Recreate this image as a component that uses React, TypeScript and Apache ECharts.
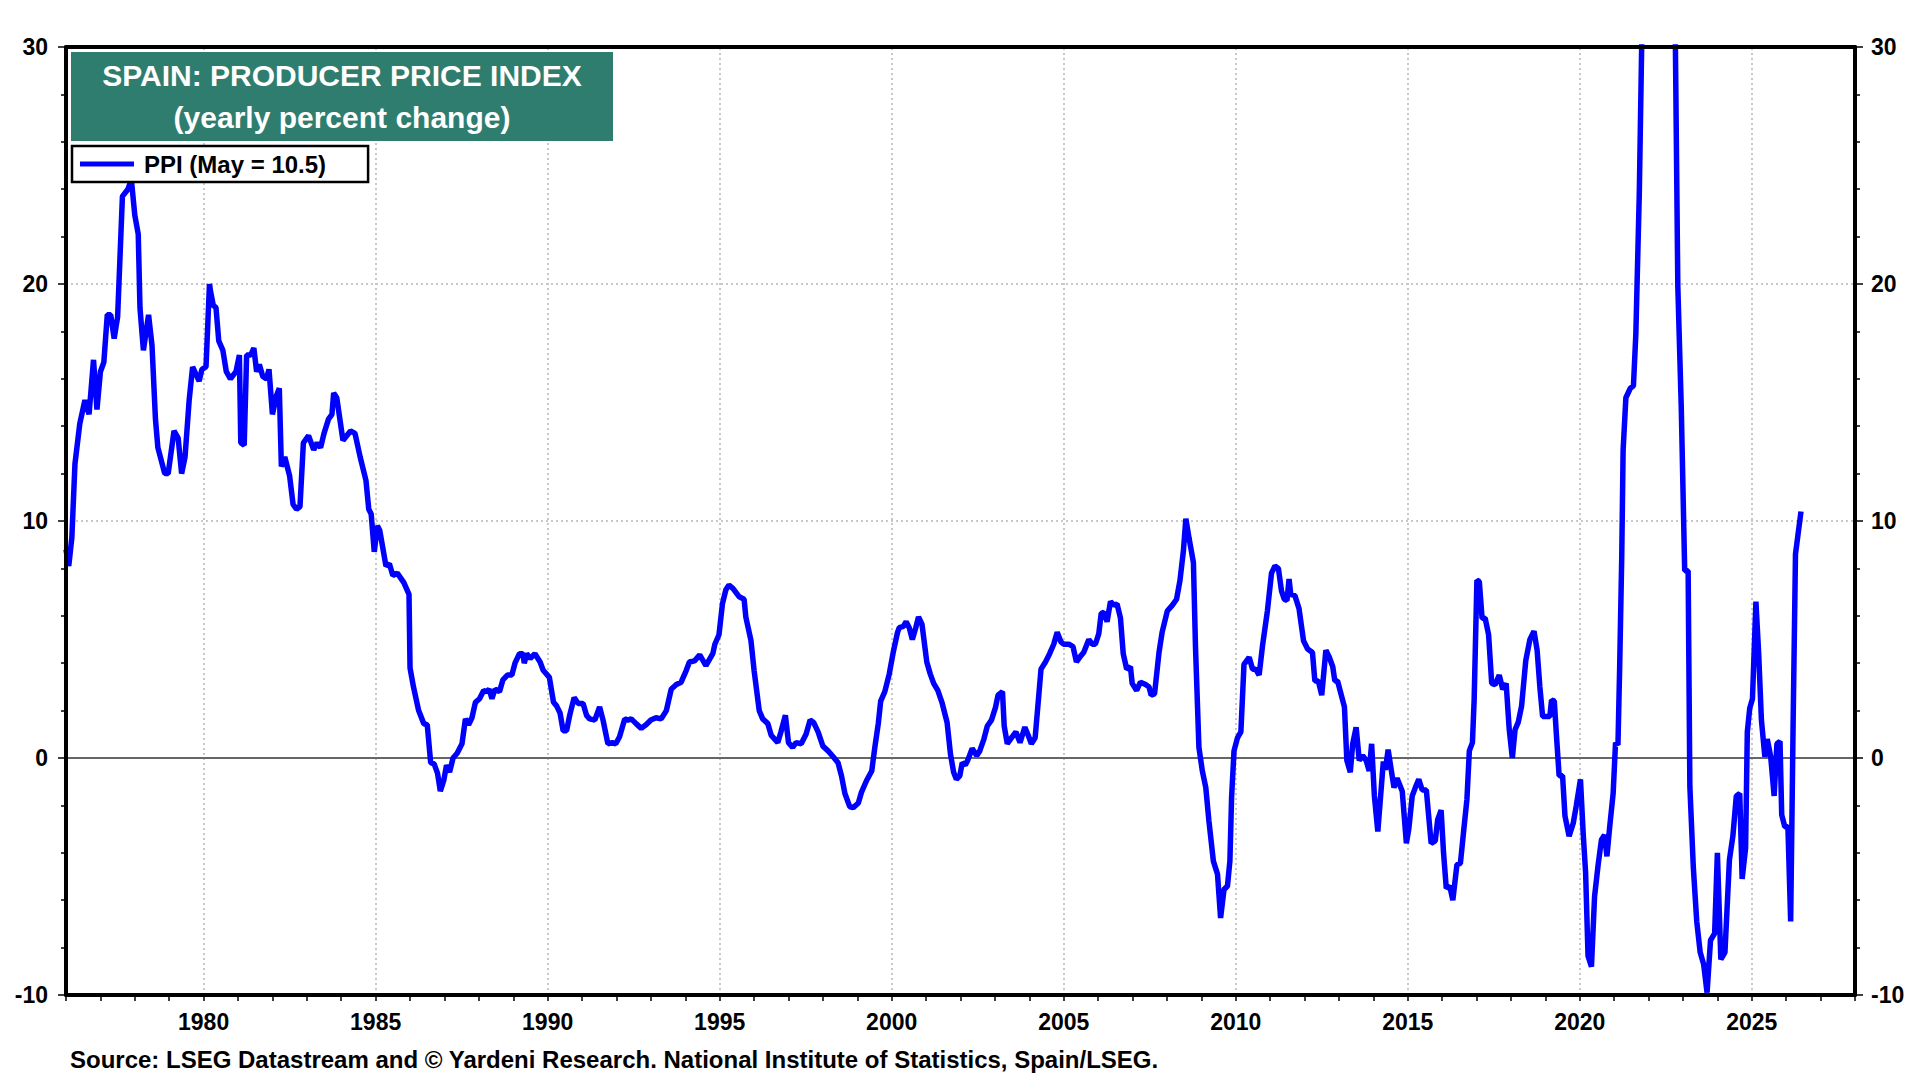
import * as echarts from 'echarts';
import { useEffect, useRef } from 'react';

// decimal year of each reading
const dates = [
  1976.0, 1976.08, 1976.17, 1976.26, 1976.4, 1976.55, 1976.67, 1976.8, 1976.9, 1977.0,
  1977.1, 1977.2, 1977.3, 1977.4, 1977.5, 1977.64, 1977.8, 1977.9, 1978.0, 1978.1,
  1978.15, 1978.25, 1978.4, 1978.5, 1978.6, 1978.67, 1978.87, 1978.97, 1979.14, 1979.26,
  1979.36, 1979.46, 1979.58, 1979.68, 1979.87, 1979.95, 1980.07, 1980.17, 1980.2, 1980.28,
  1980.36, 1980.44, 1980.56, 1980.66, 1980.78, 1980.94, 1981.04, 1981.08, 1981.18, 1981.25,
  1981.37, 1981.46, 1981.54, 1981.62, 1981.72, 1981.83, 1981.9, 1982.0, 1982.12, 1982.2,
  1982.26, 1982.36, 1982.5, 1982.6, 1982.7, 1982.8, 1982.9, 1983.05, 1983.2, 1983.3,
  1983.4, 1983.5, 1983.63, 1983.73, 1983.78, 1983.87, 1984.05, 1984.27, 1984.4, 1984.55,
  1984.72, 1984.8, 1984.87, 1984.96, 1985.05, 1985.12, 1985.3, 1985.4, 1985.5, 1985.63,
  1985.82, 1985.97, 1986.0, 1986.1, 1986.25, 1986.4, 1986.5, 1986.6, 1986.7, 1986.8,
  1986.88, 1986.98, 1987.06, 1987.15, 1987.25, 1987.37, 1987.51, 1987.61, 1987.7, 1987.8,
  1987.9, 1988.02, 1988.14, 1988.23, 1988.3, 1988.38, 1988.47, 1988.6, 1988.7, 1988.83,
  1988.96, 1989.05, 1989.18, 1989.28, 1989.32, 1989.39, 1989.49, 1989.63, 1989.78, 1989.87,
  1990.05, 1990.17, 1990.26, 1990.36, 1990.45, 1990.55, 1990.64, 1990.77, 1990.89, 1991.03,
  1991.13, 1991.22, 1991.37, 1991.51, 1991.61, 1991.75, 1991.88, 1991.98, 1992.09, 1992.24,
  1992.33, 1992.43, 1992.57, 1992.72, 1992.86, 1993.0, 1993.15, 1993.3, 1993.45, 1993.59,
  1993.74, 1993.88, 1994.03, 1994.12, 1994.27, 1994.42, 1994.6, 1994.8, 1994.86, 1994.98,
  1995.08, 1995.18, 1995.27, 1995.39, 1995.57, 1995.71, 1995.76, 1995.91, 1996.0, 1996.15,
  1996.25, 1996.4, 1996.5, 1996.69, 1996.78, 1996.91, 1997.0, 1997.12, 1997.22, 1997.37,
  1997.51, 1997.63, 1997.73, 1997.86, 1998.0, 1998.15, 1998.3, 1998.44, 1998.54, 1998.64,
  1998.78, 1998.88, 1999.03, 1999.12, 1999.27, 1999.42, 1999.51, 1999.61, 1999.68, 1999.8,
  1999.93, 2000.05, 2000.17, 2000.22, 2000.34, 2000.42, 2000.51, 2000.6, 2000.7, 2000.78,
  2000.88, 2001.02, 2001.12, 2001.22, 2001.34, 2001.46, 2001.61, 2001.71, 2001.8, 2001.88,
  2001.98, 2002.05, 2002.14, 2002.21, 2002.34, 2002.47, 2002.56, 2002.68, 2002.78, 2002.9,
  2003.02, 2003.09, 2003.22, 2003.27, 2003.36, 2003.48, 2003.61, 2003.73, 2003.87, 2003.97,
  2004.06, 2004.17, 2004.27, 2004.34, 2004.47, 2004.59, 2004.71, 2004.81, 2004.92, 2005.0,
  2005.15, 2005.27, 2005.37, 2005.49, 2005.58, 2005.73, 2005.83, 2005.92, 2006.02, 2006.09,
  2006.17, 2006.26, 2006.36, 2006.46, 2006.55, 2006.65, 2006.73, 2006.83, 2006.94, 2006.99,
  2007.12, 2007.23, 2007.38, 2007.48, 2007.54, 2007.64, 2007.77, 2007.86, 2008.01, 2008.16,
  2008.28, 2008.38, 2008.48, 2008.55, 2008.64, 2008.77, 2008.83, 2008.93, 2009.03, 2009.13,
  2009.22, 2009.35, 2009.47, 2009.56, 2009.66, 2009.76, 2009.83, 2009.88, 2009.95, 2010.05,
  2010.15, 2010.24, 2010.39, 2010.49, 2010.58, 2010.68, 2010.78, 2010.92, 2011.04, 2011.14,
  2011.24, 2011.33, 2011.41, 2011.49, 2011.55, 2011.6, 2011.72, 2011.84, 2011.97, 2012.09,
  2012.23, 2012.3, 2012.4, 2012.5, 2012.62, 2012.72, 2012.82, 2012.88, 2012.96, 2013.06,
  2013.16, 2013.23, 2013.33, 2013.4, 2013.5, 2013.59, 2013.69, 2013.79, 2013.88, 2013.95,
  2014.03, 2014.13, 2014.29, 2014.35, 2014.43, 2014.52, 2014.6, 2014.69, 2014.84, 2014.96,
  2015.03, 2015.13, 2015.22, 2015.32, 2015.42, 2015.54, 2015.68, 2015.8, 2015.87, 2015.97,
  2016.04, 2016.12, 2016.22, 2016.31, 2016.43, 2016.53, 2016.62, 2016.72, 2016.79, 2016.88,
  2016.93, 2017.01, 2017.08, 2017.16, 2017.25, 2017.35, 2017.44, 2017.54, 2017.66, 2017.76,
  2017.86, 2017.95, 2018.04, 2018.12, 2018.21, 2018.31, 2018.43, 2018.55, 2018.67, 2018.76,
  2018.84, 2018.92, 2019.02, 2019.13, 2019.18, 2019.26, 2019.32, 2019.4, 2019.5, 2019.57,
  2019.69, 2019.81, 2019.9, 2020.02, 2020.1, 2020.17, 2020.24, 2020.34, 2020.43, 2020.53,
  2020.63, 2020.72, 2020.79, 2020.87, 2020.97, 2021.04, 2021.11, 2021.16, 2021.22, 2021.26,
  2021.34, 2021.47, 2021.56, 2021.63, 2021.73, 2021.81, 2021.9, 2022.0, 2022.1, 2022.2,
  2022.3, 2022.4, 2022.5, 2022.6, 2022.7, 2022.78, 2022.85, 2022.95, 2023.05, 2023.15,
  2023.2, 2023.3, 2023.4, 2023.5, 2023.6, 2023.7, 2023.8, 2023.92, 2024.0, 2024.1,
  2024.22, 2024.35, 2024.45, 2024.55, 2024.65, 2024.72, 2024.82, 2024.87, 2024.94, 2025.02,
  2025.12, 2025.2, 2025.28, 2025.38, 2025.45, 2025.55, 2025.65, 2025.73, 2025.82, 2025.87,
  2025.96, 2026.05, 2026.13, 2026.2, 2026.27, 2026.43,
];

// PPI, yearly percent change
const ppi = [
  8.8, 8.1, 9.3, 12.4, 14.1, 15.1, 14.5, 16.8, 14.7, 16.3,
  16.7, 18.7, 18.7, 17.7, 18.6, 23.7, 24.0, 24.4, 22.9, 22.1,
  19.0, 17.2, 18.7, 17.4, 14.3, 13.1, 12.0, 12.0, 13.8, 13.5,
  12.0, 12.7, 15.1, 16.5, 15.9, 16.4, 16.5, 20.0, 19.7, 19.1,
  19.0, 17.6, 17.2, 16.3, 16.0, 16.3, 17.0, 13.3, 13.2, 17.0,
  17.0, 17.3, 16.3, 16.6, 16.1, 16.0, 16.4, 14.5, 15.3, 15.6,
  12.3, 12.7, 11.9, 10.7, 10.5, 10.6, 13.3, 13.6, 13.0, 13.3,
  13.1, 13.7, 14.3, 14.5, 15.4, 15.2, 13.4, 13.8, 13.7, 12.7,
  11.7, 10.5, 10.3, 8.7, 9.8, 9.6, 8.1, 8.2, 7.7, 7.8,
  7.4, 6.9, 3.8, 3.0, 2.0, 1.45, 1.4, -0.2, -0.25, -0.65,
  -1.4, -0.95, -0.3, -0.6, 0.0, 0.2, 0.6, 1.65, 1.4, 1.7,
  2.35, 2.5, 2.85, 2.8, 2.9, 2.5, 2.9, 2.8, 3.3, 3.5,
  3.5, 4.0, 4.4, 4.4, 4.0, 4.4, 4.2, 4.4, 4.05, 3.7,
  3.4, 2.35, 2.2, 1.9, 1.15, 1.15, 1.8, 2.55, 2.3, 2.3,
  1.8, 1.65, 1.6, 2.15, 1.6, 0.6, 0.65, 0.6, 0.9, 1.65,
  1.6, 1.65, 1.45, 1.25, 1.4, 1.6, 1.7, 1.65, 2.0, 2.9,
  3.1, 3.2, 3.7, 4.05, 4.1, 4.35, 3.9, 4.4, 4.8, 5.2,
  6.5, 7.1, 7.3, 7.15, 6.8, 6.7, 5.95, 4.95, 3.7, 2.0,
  1.65, 1.45, 0.95, 0.65, 1.1, 1.8, 0.65, 0.45, 0.65, 0.6,
  1.0, 1.6, 1.5, 1.1, 0.5, 0.3, 0.05, -0.2, -0.75, -1.5,
  -2.05, -2.1, -1.9, -1.45, -0.95, -0.55, 0.45, 1.45, 2.4, 2.8,
  3.55, 4.5, 5.3, 5.5, 5.55, 5.75, 5.5, 5.0, 5.5, 5.95,
  5.65, 4.05, 3.55, 3.15, 2.85, 2.35, 1.5, 0.15, -0.6, -0.9,
  -0.75, -0.2, -0.3, -0.1, 0.4, 0.1, 0.3, 0.8, 1.35, 1.6,
  2.15, 2.65, 2.8, 1.35, 0.6, 0.85, 1.1, 0.65, 1.3, 0.95,
  0.6, 0.85, 2.55, 3.75, 4.05, 4.4, 4.8, 5.3, 4.9, 4.8,
  4.8, 4.7, 4.05, 4.3, 4.45, 5.0, 4.8, 4.8, 5.25, 6.1,
  6.15, 5.75, 6.6, 6.45, 6.5, 5.9, 4.4, 3.75, 3.85, 3.15,
  2.85, 3.2, 3.1, 3.0, 2.65, 2.7, 4.45, 5.3, 6.2, 6.45,
  6.7, 7.5, 8.75, 10.1, 9.3, 8.25, 4.7, 0.45, -0.55, -1.25,
  -2.65, -4.35, -4.9, -6.75, -5.55, -5.4, -4.35, -1.65, 0.3, 0.85,
  1.1, 3.95, 4.25, 3.75, 3.75, 3.5, 4.75, 6.2, 7.8, 8.1,
  8.0, 7.05, 6.7, 6.65, 7.55, 6.9, 6.85, 6.3, 4.95, 4.6,
  4.45, 3.25, 3.25, 2.65, 4.55, 4.25, 3.85, 3.25, 3.25, 2.7,
  2.15, -0.1, -0.6, 0.6, 1.3, -0.1, 0.1, -0.1, -0.55, 0.6,
  -1.6, -3.1, -0.15, -0.5, 0.35, -0.5, -1.25, -0.85, -1.4, -3.6,
  -3.0, -1.6, -1.25, -0.9, -1.35, -1.35, -3.6, -3.5, -2.6, -2.2,
  -4.0, -5.5, -5.4, -6.0, -4.5, -4.45, -3.15, -1.75, 0.3, 0.65,
  2.45, 7.5, 7.45, 5.9, 5.9, 5.2, 3.15, 3.1, 3.5, 2.9,
  3.15, 1.2, 0.0, 1.2, 1.5, 2.2, 4.1, 5.0, 5.35, 4.55,
  3.0, 1.75, 1.75, 1.75, 2.45, 2.4, 1.0, -0.75, -0.75, -2.45,
  -3.3, -2.75, -2.0, -0.9, -3.2, -4.85, -8.35, -8.8, -5.85, -4.55,
  -3.45, -3.25, -4.15, -2.9, -1.5, 0.65, 0.55, 3.85, 8.5, 13.0,
  15.2, 15.6, 15.7, 17.9, 23.8, 31.0, 36.0, 40.0, 43.0, 46.0,
  45.0, 44.0, 43.0, 40.0, 34.0, 30.0, 19.9, 14.8, 7.9, 7.9,
  -1.2, -4.6, -6.9, -8.2, -8.7, -9.9, -7.7, -7.4, -4.0, -8.5,
  -8.2, -4.3, -3.3, -1.6, -1.5, -5.1, -3.8, 1.1, 2.1, 2.5,
  6.6, 4.4, 1.6, 0.05, 0.8, 0.05, -1.6, 0.6, 0.7, -2.4,
  -2.9, -2.9, -6.9, 1.3, 8.6, 10.4,
];

const gridYears = [1980, 1985, 1990, 1995, 2000, 2005, 2010, 2015, 2020, 2025];
const gridLevels = [10, 20];

const FONT = '"Liberation Sans", Arial, Helvetica, sans-serif';
const GRID_STYLE = { color: '#c8c8c8', width: 2, type: [2, 3] };

const SpainPpiChart = () => {
    const divRef = useRef<HTMLDivElement>(null);

    useEffect(() => {
        document.body.style.margin = '0';
        const myChart = echarts.init(divRef.current!, null, { renderer: 'svg' });

        const yAxisBase = {
            type: 'value',
            min: -10,
            max: 30,
            interval: 10,
            z: 10,
            axisLine: { show: true, lineStyle: { color: '#000', width: 4 } },
            axisTick: { show: true, length: 8, lineStyle: { color: '#000', width: 1.5 } },
            minorTick: { show: true, splitNumber: 5, length: 5, lineStyle: { color: '#000', width: 1.5 } },
            axisLabel: { color: '#000', fontSize: 23, fontWeight: 'bold', fontFamily: FONT },
            splitLine: { show: false },
        };

        myChart.setOption({
            animation: false,
            backgroundColor: '#fff',
            textStyle: { fontFamily: FONT },
            grid: { left: 66, right: 65, top: 47, bottom: 85, show: false },
            legend: {
                left: 72,
                top: 146,
                z: 50,
                orient: 'vertical',
                backgroundColor: '#fff',
                borderColor: '#000',
                borderWidth: 2.5,
                borderRadius: 0,
                padding: [6, 42, 6, 8],
                itemWidth: 54,
                itemHeight: 5,
                itemGap: 0,
                textStyle: {
                    color: '#000', fontSize: 24, fontWeight: 'bold', fontFamily: FONT,
                    padding: [0, 0, 0, 5],
                },
                data: [{ name: 'PPI (May = 10.5)', icon: 'rect' }],
            },
            xAxis: [
                {
                    type: 'value',
                    min: 1976,
                    max: 2028,
                    interval: 1,
                    z: 10,
                    axisLine: { show: true, onZero: false, lineStyle: { color: '#000', width: 4 } },
                    axisTick: { show: true, length: 6, lineStyle: { color: '#000', width: 1.5 } },
                    axisLabel: {
                        color: '#000', fontSize: 23, fontWeight: 'bold', fontFamily: FONT, margin: 15,
                        formatter: (v: number) => (v % 5 === 0 ? String(v) : ''),
                    },
                    splitLine: { show: false },
                },
                {
                    // top frame line
                    type: 'value',
                    position: 'top',
                    min: 1976,
                    max: 2028,
                    z: 10,
                    axisLine: { show: true, onZero: false, lineStyle: { color: '#000', width: 4 } },
                    axisTick: { show: false },
                    axisLabel: { show: false },
                    splitLine: { show: false },
                },
            ],
            yAxis: [
                { ...yAxisBase, position: 'left', axisLabel: { ...yAxisBase.axisLabel, margin: 18 } },
                { ...yAxisBase, position: 'right', axisLabel: { ...yAxisBase.axisLabel, margin: 16 } },
            ],
            series: [
                {
                    name: 'grid',
                    type: 'line',
                    data: [],
                    silent: true,
                    z: 1,
                    markLine: {
                        silent: true,
                        symbol: 'none',
                        label: { show: false },
                        lineStyle: GRID_STYLE,
                        data: [
                            ...gridYears.map((y) => ({ xAxis: y })),
                            ...gridLevels.map((v) => ({ yAxis: v })),
                        ],
                    },
                },
                {
                    name: 'zero',
                    type: 'line',
                    data: [],
                    silent: true,
                    z: 2,
                    markLine: {
                        silent: true,
                        symbol: 'none',
                        label: { show: false },
                        lineStyle: { color: '#666', width: 2, type: 'solid' },
                        data: [{ yAxis: 0 }],
                    },
                },
                {
                    name: 'PPI (May = 10.5)',
                    type: 'line',
                    data: dates.map((d, i) => [d, ppi[i]]),
                    symbol: 'none',
                    showSymbol: false,
                    clip: true,
                    z: 5,
                    lineStyle: { color: '#0000ff', width: 5.5 },
                    itemStyle: { color: '#0000ff' },
                },
            ],
            graphic: [
                {
                    type: 'rect',
                    left: 71,
                    top: 52,
                    z: 100,
                    shape: { width: 542, height: 89 },
                    style: { fill: '#2e7d6e' },
                },
                {
                    type: 'text',
                    x: 342,
                    y: 75,
                    z: 101,
                    style: {
                        text: 'SPAIN: PRODUCER PRICE INDEX',
                        fill: '#fff',
                        font: `bold 30px ${FONT}`,
                        textAlign: 'center',
                        textVerticalAlign: 'middle',
                    },
                },
                {
                    type: 'text',
                    x: 342,
                    y: 117,
                    z: 101,
                    style: {
                        text: '(yearly percent change)',
                        fill: '#fff',
                        font: `bold 30px ${FONT}`,
                        textAlign: 'center',
                        textVerticalAlign: 'middle',
                    },
                },
                {
                    type: 'text',
                    left: 70,
                    top: 1047,
                    z: 101,
                    style: {
                        text: 'Source: LSEG Datastream and © Yardeni Research. National Institute of Statistics, Spain/LSEG.',
                        fill: '#000',
                        font: `bold 24px ${FONT}`,
                    },
                },
            ],
        });

        return () => {
            myChart.dispose();
        };
    }, []);

    return <div ref={divRef} style={{ width: '1920px', height: '1080px' }}></div>;
};

export default SpainPpiChart;
